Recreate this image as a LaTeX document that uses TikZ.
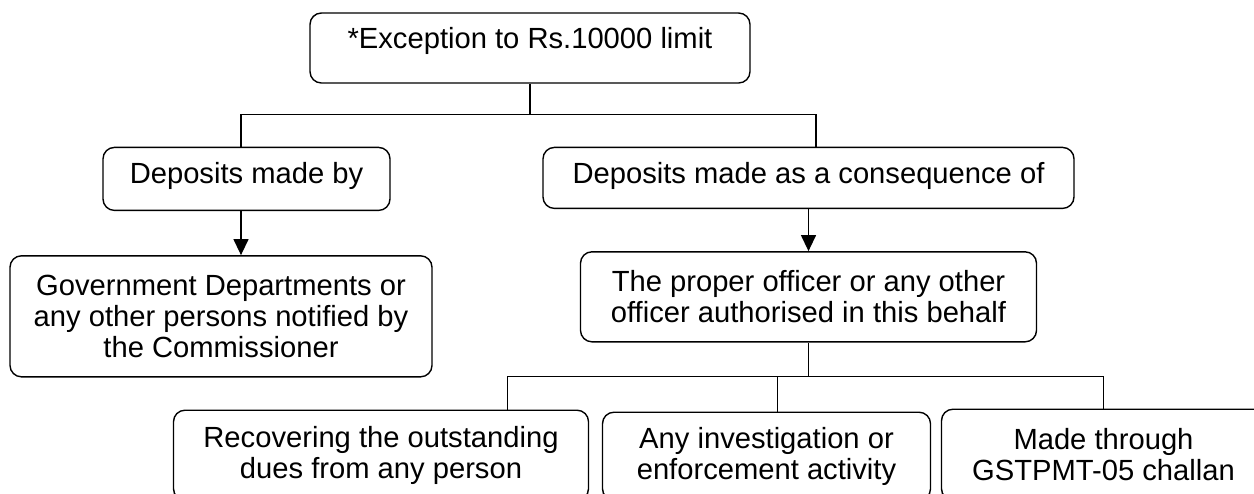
\documentclass[tikz,border=0pt]{standalone}
\usepackage{fontspec}
\setmainfont{Liberation Sans}
\usepackage{tikz}
\usetikzlibrary{positioning,arrows.meta,calc}
\tikzset{
  caja/.style={rectangle, rounded corners=6.5pt, draw=black, line width=0.8pt,
    align=center, inner sep=0pt, font=\fontsize{16.6}{17.6}\selectfont},
  cajau/.style={caja, text height=0.42cm, text depth=#1},
  flecha/.style={-{Triangle[length=3.2mm,width=3mm]}, line width=0.75pt},
  linea/.style={line width=0.75pt},
}
\begin{document}
\begin{tikzpicture}
  \useasboundingbox (0,0) rectangle (25.08,-9.86);
  \node[cajau=0.40cm, minimum width=8.8cm, minimum height=1.4cm] (exc) at (10.6,-0.96)
    {*Exception to Rs.10000 limit};
  \node[cajau=0.22cm, minimum width=5.74cm, minimum height=1.26cm,
    below=1.26cm of exc, xshift=-5.67cm] (dby) {Deposits made by};
  \node[cajau=0.18cm, minimum width=10.62cm, minimum height=1.22cm,
    below=1.26cm of exc, xshift=5.57cm] (dcons) {Deposits made as a consequence of};
  \node[caja, minimum width=8.44cm, minimum height=2.42cm,
    below=0.88cm of dby, xshift=-0.51cm] (govt)
    {Government Departments or\\any other persons notified by\\the Commissioner};
  \node[caja, minimum width=9.12cm, minimum height=1.8cm, below=0.84cm of dcons] (off)
    {The proper officer or any other\\officer authorised in this behalf};
  % tres casos de abajo
  \node[caja, minimum width=8.3cm, minimum height=1.8cm,
    below=1.34cm of off, xshift=-8.55cm] (rec)
    {Recovering the outstanding\\dues from any person};
  \node[caja, minimum width=6.56cm, minimum height=1.76cm,
    below=1.38cm of off, xshift=-0.84cm] (inv)
    {Any investigation or\\enforcement activity};
  \node[caja, minimum width=6.48cm, minimum height=1.82cm,
    below=1.32cm of off, xshift=5.9cm] (made)
    {Made through\\GSTPMT-05 challan};
  % conectores
  \coordinate (c1) at ($(exc.south)+(0,-0.62)$);
  \coordinate (c2) at ($(off.south)+(0,-0.68)$);
  \draw[linea] (exc) -- (c1);
  \draw[linea] ([xshift=-0.11cm]dby.north) |- (c1) -| ([xshift=0.15cm]dcons.north);
  \draw[flecha] ([xshift=-0.11cm]dby.south) -- ([xshift=-0.11cm]dby.south |- govt.north);
  \draw[flecha] (dcons.south) -- (dcons.south |- off.north);
  \draw[linea] (off) -- (c2);
  \draw[linea] ([xshift=2.53cm]rec.north) |- (c2) -| (made.north);
  \draw[linea] ([xshift=0.22cm]inv.north) -- ([xshift=0.22cm]inv.north |- c2);
\end{tikzpicture}
\end{document}
